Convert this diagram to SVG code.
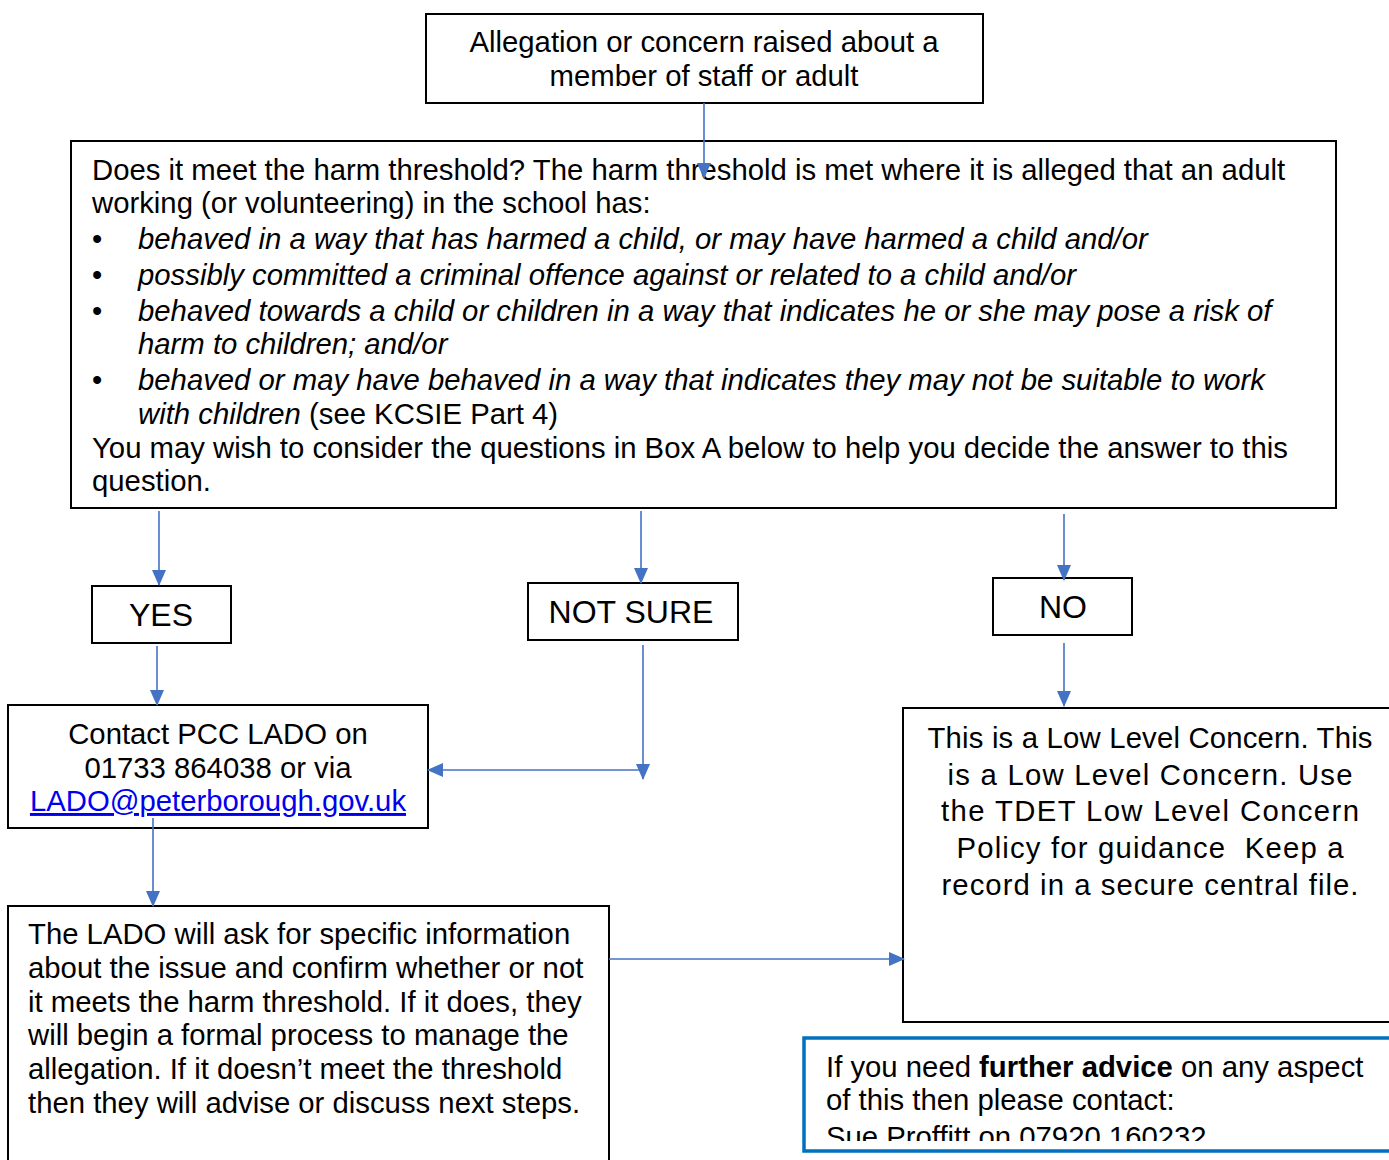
<svg xmlns="http://www.w3.org/2000/svg" width="1389" height="1160" viewBox="0 0 1389 1160">
<style>
text{font-family:"Liberation Sans",Arial,sans-serif;font-size:29.3px;fill:#000}
.box{fill:#fff;stroke:#000;stroke-width:2}
.big{font-size:32px}
.it{font-style:italic}
.c{text-anchor:middle}
.con{stroke:#4472C4;stroke-width:1.6;fill:none}
.link{fill:#0000EE;text-decoration:underline}
</style>
<defs>
<marker id="ah" markerWidth="16" markerHeight="14" refX="15" refY="7" orient="auto" markerUnits="userSpaceOnUse">
<path d="M0,0 L16,7 L0,14 z" fill="#4472C4"/>
</marker>
<clipPath id="clipAdv"><rect x="803" y="1037" width="586" height="104"/></clipPath>
</defs>
<rect width="1389" height="1160" fill="#fff"/>

<g id="n-start">
<rect class="box" x="426" y="14" width="557" height="89"/>
<text class="c" x="704" y="52">Allegation or concern raised about a</text>
<text class="c" x="704" y="86">member of staff or adult</text>
</g>

<g id="n-threshold">
<rect class="box" x="71" y="141" width="1265" height="367"/>
<text x="92" y="180">Does it meet the harm threshold? The harm threshold is met where it is alleged that an adult</text>
<text x="92" y="213">working (or volunteering) in the school has:</text>
<text x="92" y="249">•</text><text class="it" x="138" y="249">behaved in a way that has harmed a child, or may have harmed a child and/or</text>
<text x="92" y="285">•</text><text class="it" x="138" y="285">possibly committed a criminal offence against or related to a child and/or</text>
<text x="92" y="321">•</text><text class="it" x="138" y="321">behaved towards a child or children in a way that indicates he or she may pose a risk of</text>
<text class="it" x="138" y="354">harm to children; and/or</text>
<text x="92" y="390">•</text><text class="it" x="138" y="390">behaved or may have behaved in a way that indicates they may not be suitable to work</text>
<text x="138" y="424"><tspan class="it">with children</tspan> (see KCSIE Part 4)</text>
<text x="92" y="458">You may wish to consider the questions in Box A below to help you decide the answer to this</text>
<text x="92" y="491">question.</text>
</g>

<g id="n-yes">
<rect class="box" x="92" y="586" width="139" height="57"/>
<text class="c big" x="161" y="626">YES</text>
</g>

<g id="n-notsure">
<rect class="box" x="528" y="583" width="210" height="57"/>
<text class="c big" x="631" y="623">NOT SURE</text>
</g>

<g id="n-no">
<rect class="box" x="993" y="578" width="139" height="57"/>
<text class="c big" x="1063" y="618">NO</text>
</g>

<g id="n-contact">
<rect class="box" x="8" y="705" width="420" height="123"/>
<text class="c" x="218" y="744">Contact PCC LADO on</text>
<text class="c" x="218" y="778">01733 864038 or via</text>
<text class="c link" x="218" y="811">LADO@peterborough.gov.uk</text>
</g>

<g id="n-lado">
<rect class="box" x="8" y="906" width="601" height="270"/>
<text x="28" y="944">The LADO will ask for specific information</text>
<text x="28" y="978">about the issue and confirm whether or not</text>
<text x="28" y="1012">it meets the harm threshold. If it does, they</text>
<text x="28" y="1045">will begin a formal process to manage the</text>
<text x="28" y="1079">allegation. If it doesn’t meet the threshold</text>
<text x="28" y="1113">then they will advise or discuss next steps.</text>
</g>

<g id="n-lowlevel">
<rect class="box" x="903" y="708" width="500" height="314"/>
<text class="c" x="1150" y="748" textLength="445">This is a Low Level Concern. This</text>
<text class="c" x="1150" y="785" textLength="405">is a Low Level Concern. Use</text>
<text class="c" x="1150" y="821" textLength="418">the TDET Low Level Concern</text>
<text class="c" x="1150" y="858" textLength="387">Policy for guidance&#160; Keep a</text>
<text class="c" x="1150" y="895" textLength="417">record in a secure central file.</text>
</g>

<g id="n-advice">
<rect x="804" y="1038" width="600" height="113" fill="#fff" stroke="#0070C0" stroke-width="3.5"/>
<g clip-path="url(#clipAdv)">
<text x="826" y="1077">If you need <tspan font-weight="bold">further advice</tspan> on any aspect</text>
<text x="826" y="1110">of this then please contact:</text>
<text x="826" y="1147">Sue Proffitt on 07920 160232</text>
</g>
</g>

<g id="connectors">
<line class="con" x1="704" y1="103" x2="704" y2="178" marker-end="url(#ah)"/>
<line class="con" x1="159" y1="511" x2="159" y2="585" marker-end="url(#ah)"/>
<line class="con" x1="641" y1="511" x2="641" y2="583" marker-end="url(#ah)"/>
<line class="con" x1="1064" y1="514" x2="1064" y2="580" marker-end="url(#ah)"/>
<line class="con" x1="157" y1="646" x2="157" y2="705" marker-end="url(#ah)"/>
<line class="con" x1="643" y1="645" x2="643" y2="779" marker-end="url(#ah)"/>
<line class="con" x1="643" y1="770" x2="428" y2="770" marker-end="url(#ah)"/>
<line class="con" x1="1064" y1="643" x2="1064" y2="706" marker-end="url(#ah)"/>
<line class="con" x1="153" y1="818" x2="153" y2="906" marker-end="url(#ah)"/>
<line class="con" x1="609" y1="959" x2="904" y2="959" marker-end="url(#ah)"/>
</g>
</svg>
